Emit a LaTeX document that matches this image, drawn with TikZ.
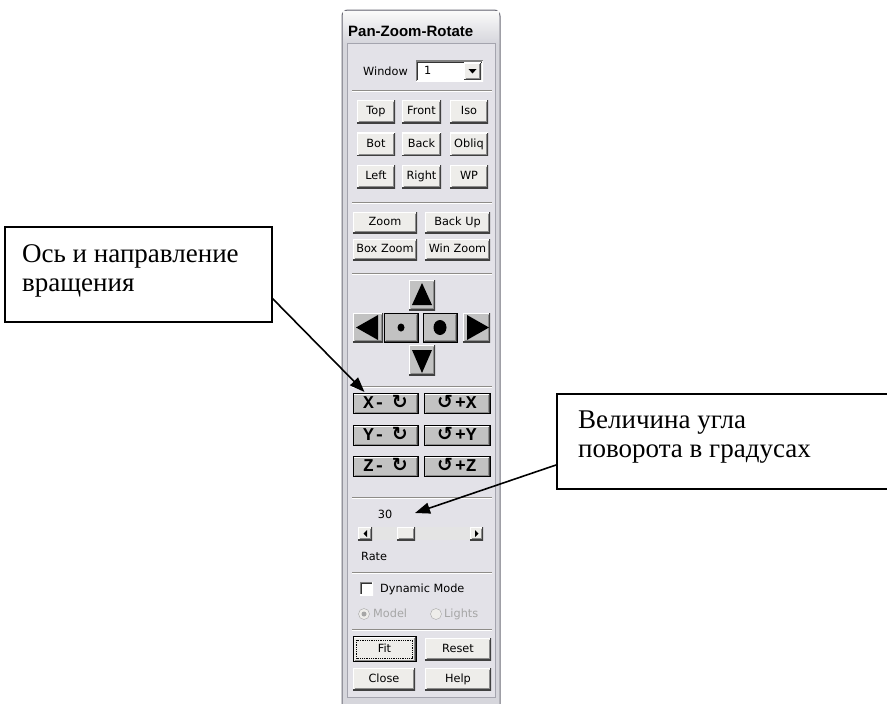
\documentclass[tikz,border=0pt]{standalone}
\usepackage{fontspec}
\setmainfont{Liberation Serif}
\newfontfamily\uifont{DejaVu Sans}
\newfontfamily\titlefont{Liberation Sans}
\newfontfamily\rotfont{Liberation Mono}
\newfontfamily\symb{DejaVu Sans}
\usetikzlibrary{arrows.meta}
\definecolor{panelbg}{HTML}{E3E2E8}
\definecolor{btnface}{HTML}{EEEDEA}
\definecolor{classic}{HTML}{C2C2C2}
\definecolor{framefill}{HTML}{D6D6DC}
\definecolor{framedark}{HTML}{70707A}
\definecolor{innerline}{HTML}{A4A4AE}
\definecolor{sepdark}{HTML}{8E8C88}
\definecolor{disabled}{HTML}{A6A6A6}
\definecolor{trackcol}{HTML}{E4E4E4}
\tikzset{
  raised/.style={path picture={
    \draw[white,line width=2pt] (path picture bounding box.south west) -- (path picture bounding box.north west) -- (path picture bounding box.north east);
    \draw[black!75,line width=2pt] (path picture bounding box.north east) -- (path picture bounding box.south east) -- (path picture bounding box.south west);
    \draw[black!45,line width=1pt] ([shift={(-1.5pt,-1.5pt)}]path picture bounding box.north east) -- ([shift={(-1.5pt,1.5pt)}]path picture bounding box.south east) -- ([shift={(1.5pt,1.5pt)}]path picture bounding box.south west);
  }},
  sunken/.style={path picture={
    \draw[black!50,line width=2pt] (path picture bounding box.south west) -- (path picture bounding box.north west) -- (path picture bounding box.north east);
    \draw[white,line width=2pt] (path picture bounding box.north east) -- (path picture bounding box.south east) -- (path picture bounding box.south west);
    \draw[black!80,line width=1pt] ([shift={(1.5pt,1.5pt)}]path picture bounding box.south west) -- ([shift={(1.5pt,-1.5pt)}]path picture bounding box.north west) -- ([shift={(-1.5pt,-1.5pt)}]path picture bounding box.north east);
  }},
  uitext/.style={font=\uifont\fontsize{11.3}{13}\selectfont, text height=8pt, text depth=2pt, inner sep=0pt},
  btn/.style={uitext, fill=btnface, raised},
  gbtn/.style={fill=classic, raised, inner sep=0pt},
  rotbtn/.style={fill=classic, draw=black, line width=1pt, inner sep=0pt, raised,
     font=\rotfont\bfseries\fontsize{18}{18}\selectfont, text height=11pt, text depth=1pt},
  sepline/.style={draw=sepdark, line width=1pt},
  sephi/.style={draw=white, line width=1pt},
  callout/.style={draw=black, line width=2pt, inner sep=0pt, fill=white},
  calltext/.style={font=\fontsize{27}{29}\selectfont, inner sep=0pt, anchor=base west},
  callarrow/.style={line width=1.6pt, -{Triangle[length=15pt,width=11pt]}},
}
\newcommand{\rcw}{{\symb\bfseries\fontsize{19}{19}\selectfont ↻}}
\newcommand{\rccw}{{\symb\bfseries\fontsize{19}{19}\selectfont ↺}}
\begin{document}
\begin{tikzpicture}[x=1pt,y=-1pt]
\useasboundingbox (0,0) rectangle (887,704);
\clip (0,0) rectangle (887,704);
\fill[white] (0,0) rectangle (887,704);

% ---------- panel frame ----------
\draw[fill=framefill, draw=framedark, line width=1pt, rounded corners=6pt] (342,706) -- (342,10) -- (500,10) -- (500,706);
\shade[top color=white!96!gray, bottom color=framefill] (343,11) rectangle (499,43);
\fill[panelbg] (347,43) rectangle (495,697);
\draw[innerline, line width=1pt] (347,43) rectangle (495,697);
\node[font=\titlefont\bfseries\fontsize{15}{17}\selectfont, anchor=west, inner sep=0pt] (title) at (348,31) {Pan-Zoom-Rotate};

% ---------- window selector ----------
\node[uitext, anchor=west] (winlbl) at (363,72) {Window};
\node[fill=white, sunken, minimum width=67pt, minimum height=21pt, inner sep=0pt] (combo) at (449.5,71) {};
\node[uitext, anchor=west] (winval) at (424,71) {1};
\node[btn, minimum width=17pt, minimum height=17pt] (dd) at (472.5,71) {};
\fill (468.5,69) -- (476.5,69) -- (472.5,73.5) -- cycle;

\draw[sepline] (352,90) -- (492,90); \draw[sephi] (352,91) -- (492,91);

% ---------- view buttons ----------
\node[btn, minimum width=38pt, minimum height=23pt] (top)   at (376,111.5) {Top};
\node[btn, minimum width=39pt, minimum height=23pt] (front) at (421.5,111.5) {Front};
\node[btn, minimum width=38pt, minimum height=23pt] (iso)   at (469,111.5) {Iso};
\node[btn, minimum width=38pt, minimum height=23pt] (bot)   at (376,144) {Bot};
\node[btn, minimum width=39pt, minimum height=23pt] (back)  at (421.5,144) {Back};
\node[btn, minimum width=38pt, minimum height=23pt] (obliq) at (469,144) {Obliq};
\node[btn, minimum width=38pt, minimum height=23pt] (left)  at (376,176.5) {Left};
\node[btn, minimum width=39pt, minimum height=23pt] (right) at (421.5,176.5) {Right};
\node[btn, minimum width=38pt, minimum height=23pt] (wp)    at (469,176.5) {WP};

\draw[sepline] (352,202) -- (492,202); \draw[sephi] (352,203) -- (492,203);

% ---------- zoom buttons ----------
\node[btn, minimum width=64pt, minimum height=21pt] (zoom)    at (385,222.5) {Zoom};
\node[btn, minimum width=65pt, minimum height=21pt] (backup)  at (457.5,222.5) {Back Up};
\node[btn, minimum width=64pt, minimum height=21pt] (boxzoom) at (385,249.5) {Box Zoom};
\node[btn, minimum width=65pt, minimum height=21pt] (winzoom) at (457.5,249.5) {Win Zoom};

\draw[sepline] (352,273) -- (492,273); \draw[sephi] (352,274) -- (492,274);

% ---------- pan pad ----------
\node[gbtn, minimum width=26pt, minimum height=30pt] (up) at (422,295) {};
\fill (412,305) -- (432,305) -- (422,283) -- cycle;
\node[gbtn, minimum width=30pt, minimum height=29pt] (lt) at (368,327.5) {};
\fill (378,315) -- (378,340) -- (356,327.5) -- cycle;
\node[gbtn, draw=black, line width=1pt, minimum width=34pt, minimum height=29pt] (dot) at (401,327.5) {};
\fill (dot.center) ellipse [x radius=3.5pt, y radius=4pt];
\node[gbtn, draw=black, line width=1pt, minimum width=34pt, minimum height=29pt] (bigdot) at (440,327.5) {};
\fill (bigdot.center) ellipse [x radius=6.5pt, y radius=7.5pt];
\node[gbtn, minimum width=27pt, minimum height=29pt] (rt) at (476.5,327.5) {};
\fill (467,315) -- (467,340) -- (489,327.5) -- cycle;
\node[gbtn, minimum width=26pt, minimum height=30pt] (dn) at (422,360) {};
\fill (412,350) -- (432,350) -- (422,373) -- cycle;

\draw[sepline] (352,386) -- (492,386); \draw[sephi] (352,387) -- (492,387);

% ---------- rotate buttons ----------
\node[rotbtn, minimum width=65pt, minimum height=20pt] (xm) at (385.5,403.5) {X-\hspace{7pt}\rcw};
\node[rotbtn, minimum width=66pt, minimum height=20pt] (xp) at (457,403.5) {\rccw\hspace{2pt}+X\hspace{14pt}};
\node[rotbtn, minimum width=65pt, minimum height=20pt] (ym) at (385.5,435.5) {Y-\hspace{7pt}\rcw};
\node[rotbtn, minimum width=66pt, minimum height=20pt] (yp) at (457,435.5) {\rccw\hspace{2pt}+Y\hspace{14pt}};
\node[rotbtn, minimum width=65pt, minimum height=20pt] (zm) at (385.5,466.5) {Z-\hspace{7pt}\rcw};
\node[rotbtn, minimum width=66pt, minimum height=20pt] (zp) at (457,466.5) {\rccw\hspace{2pt}+Z\hspace{14pt}};

\draw[sepline] (352,497) -- (492,497); \draw[sephi] (352,498) -- (492,498);

% ---------- rate slider ----------
\node[uitext] (rateval) at (385,515) {30};
\node[fill=trackcol, minimum width=98pt, minimum height=13pt, inner sep=0pt] (track) at (421,533.5) {};
\node[btn, minimum width=14pt, minimum height=13pt] (sl) at (365,533.5) {};
\fill (367,530) -- (367,537) -- (363.5,533.5) -- cycle;
\node[btn, minimum width=18pt, minimum height=13pt] (thumb) at (406,533.5) {};
\node[btn, minimum width=13pt, minimum height=13pt] (sr) at (476.5,533.5) {};
\fill (475,530) -- (475,537) -- (478.5,533.5) -- cycle;
\node[uitext, anchor=west] (ratelbl) at (361,557) {Rate};

\draw[sepline] (352,572) -- (492,572); \draw[sephi] (352,573) -- (492,573);

% ---------- mode ----------
\node[fill=white, sunken, minimum size=13pt, inner sep=0pt] (chk) at (366.5,588.5) {};
\node[uitext, anchor=west] (dyn) at (380,589) {Dynamic Mode};
\node[circle, draw=disabled, fill=btnface, minimum size=11pt, inner sep=0pt] (rmodel) at (364,614) {};
\fill[disabled] (rmodel.center) circle [radius=2.5pt];
\node[uitext, text=disabled, anchor=west] (model) at (373,614) {Model};
\node[circle, draw=disabled, fill=btnface, minimum size=11pt, inner sep=0pt] (rlights) at (436,614) {};
\node[uitext, text=disabled, anchor=west] (lights) at (444,614) {Lights};

\draw[sepline] (352,629) -- (492,629); \draw[sephi] (352,630) -- (492,630);

% ---------- bottom buttons ----------
\node[btn, draw=black, line width=1pt, minimum width=63pt, minimum height=25pt] (fit) at (384.5,649) {Fit};
\draw[densely dotted, line width=0.8pt] ([shift={(4pt,-4pt)}]fit.north west) rectangle ([shift={(-4pt,4pt)}]fit.south east);
\node[btn, minimum width=66pt, minimum height=22pt] (reset) at (458,649) {Reset};
\node[btn, minimum width=62pt, minimum height=22pt] (close) at (384,679) {Close};
\node[btn, minimum width=66pt, minimum height=22pt] (help)  at (458,679) {Help};

% ---------- callouts ----------
\node[callout, minimum width=267pt, minimum height=95pt] (lbox) at (138.5,274.5) {};
\node[calltext] (ltext) at (22,262) {\parbox[t]{245pt}{\raggedright Ось и направление\\вращения}};
\node[callout, minimum width=333pt, minimum height=95pt] (rbox) at (723.5,441.5) {};
\node[calltext] (rtext) at (578,428) {\parbox[t]{300pt}{\raggedright Величина угла\\поворота в градусах}};

\coordinate (a1s) at ([xshift=-1pt,yshift=-23.5pt]lbox.east);
\coordinate (a1e) at ([xshift=12pt,yshift=1pt]xm.north west);
\draw[callarrow] (a1s) -- (a1e);
\coordinate (a2s) at ([yshift=-23.5pt]rbox.west);
\coordinate (a2e) at ([xshift=30pt,yshift=2pt]rateval.center);
\draw[callarrow] (a2s) -- (a2e);
\end{tikzpicture}
\end{document}
